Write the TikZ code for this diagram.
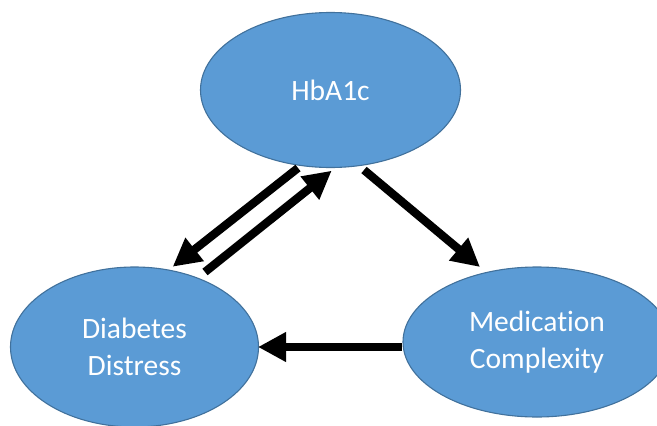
\documentclass[tikz,border=0pt]{standalone}
\usepackage{fontspec}
\setmainfont{Carlito}[Ligatures={NoCommon}]
\usetikzlibrary{shapes.geometric,arrows.meta}
\definecolor{nodefill}{HTML}{5B9BD5}
\definecolor{nodeline}{HTML}{41719C}
\tikzset{
  bubble/.style={ellipse, draw=nodeline, line width=1.1pt, fill=nodefill,
    text=white, inner sep=0pt, align=center,
    font=\fontsize{29.5}{37}\selectfont},
  thickarrow/.style={line width=8.3pt, line cap=butt,
    -{Triangle[length=28pt,width=28pt]}}
}
\begin{document}
\begin{tikzpicture}[x=1pt,y=-1pt]
  \useasboundingbox (0,0) rectangle (657,426);
  \clip (0,0) rectangle (657,426);
  \node[bubble, minimum width=260pt, minimum height=155pt] (H) at (330.5,90) {HbA1c};
  \node[bubble, minimum width=248pt, minimum height=160pt] (D) at (134.5,347) {Diabetes\\Distress};
  \node[bubble, minimum width=268pt, minimum height=150pt] (M) at (537,342) {Medication\\Complexity};
  % arrow end points, placed relative to the nodes
  \coordinate (h1) at ([shift={(-32.5,78)}]H.center);
  \coordinate (d1) at ([shift={(38.2,-80.3)}]D.center);
  \coordinate (d2) at ([shift={(70.5,-75)}]D.center);
  \coordinate (h2) at ([shift={(1.2,80.7)}]H.center);
  \coordinate (h3) at ([shift={(33.5,80)}]H.center);
  \coordinate (m3) at ([shift={(-57,-75)}]M.center);
  \coordinate (m4) at ([shift={(-135,5)}]M.center);
  \coordinate (d4) at ([shift={(123.5,0)}]D.center);
  \draw[thickarrow] (h1) -- (d1);
  \draw[thickarrow] (d2) -- (h2);
  \draw[thickarrow] (h3) -- (m3);
  \draw[thickarrow] (m4) -- (d4);
\end{tikzpicture}
\end{document}
